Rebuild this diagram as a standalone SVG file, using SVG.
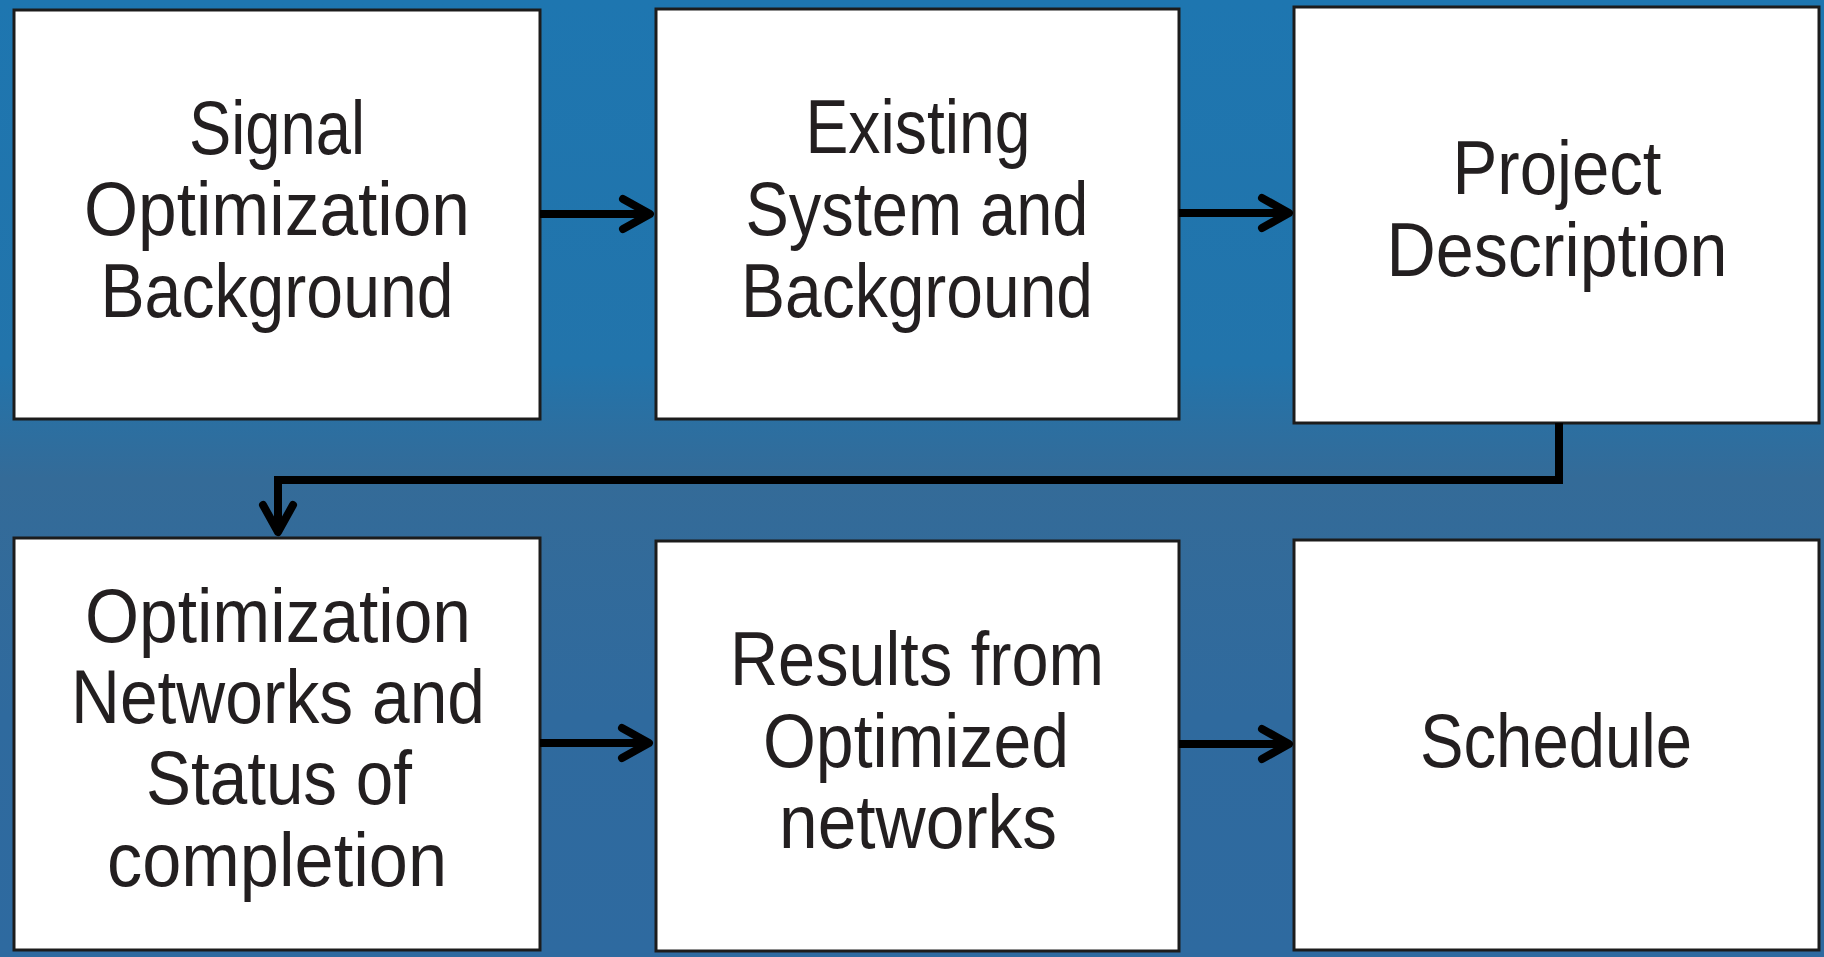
<svg xmlns="http://www.w3.org/2000/svg" width="1824" height="957" viewBox="0 0 1824 957">
  <defs>
    <linearGradient id="bg" x1="0" y1="0" x2="0" y2="1">
      <stop offset="0" stop-color="#1e76b0"/>
      <stop offset="0.38" stop-color="#2274ab"/>
      <stop offset="0.5" stop-color="#346b98"/>
      <stop offset="0.75" stop-color="#2f6a9e"/>
      <stop offset="1" stop-color="#2e6aa0"/>
    </linearGradient>
    <marker id="chevron" viewBox="-34 -20 40 40" refX="0" refY="0" markerWidth="40" markerHeight="40" markerUnits="userSpaceOnUse" orient="auto">
      <path d="M-27,-15 L0,0 L-27,15" fill="none" stroke="#000" stroke-width="8" stroke-linecap="round" stroke-linejoin="round"/>
    </marker>
    <style>
      .box { fill: #ffffff; stroke: #1c1c1c; stroke-width: 3; }
      .label { font-family: "Liberation Sans", Arial, sans-serif; font-size: 76px; fill: #231f20; text-anchor: middle; }
      .link { fill: none; stroke: #000; stroke-width: 8; marker-end: url(#chevron); }
    </style>
  </defs>

  <rect x="0" y="0" width="1824" height="957" fill="url(#bg)"/>

  <g id="node-signal-optimization">
    <rect class="box" x="14" y="10" width="526" height="409"/>
    <text class="label" x="277" y="154" textLength="176" lengthAdjust="spacingAndGlyphs">Signal</text>
    <text class="label" x="277" y="235" textLength="386" lengthAdjust="spacingAndGlyphs">Optimization</text>
    <text class="label" x="277" y="317" textLength="353" lengthAdjust="spacingAndGlyphs">Background</text>
  </g>

  <g id="node-existing-system">
    <rect class="box" x="656" y="9" width="523" height="410"/>
    <text class="label" x="918" y="153" textLength="225" lengthAdjust="spacingAndGlyphs">Existing</text>
    <text class="label" x="917" y="235" textLength="343" lengthAdjust="spacingAndGlyphs">System and</text>
    <text class="label" x="917" y="317" textLength="352" lengthAdjust="spacingAndGlyphs">Background</text>
  </g>

  <g id="node-project-description">
    <rect class="box" x="1294" y="7" width="525" height="416"/>
    <text class="label" x="1557" y="194" textLength="209" lengthAdjust="spacingAndGlyphs">Project</text>
    <text class="label" x="1557" y="276" textLength="341" lengthAdjust="spacingAndGlyphs">Description</text>
  </g>

  <g id="node-optimization-networks">
    <rect class="box" x="14" y="538" width="526" height="412"/>
    <text class="label" x="278" y="642" textLength="386" lengthAdjust="spacingAndGlyphs">Optimization</text>
    <text class="label" x="278" y="723" textLength="414" lengthAdjust="spacingAndGlyphs">Networks and</text>
    <text class="label" x="279" y="804" textLength="266" lengthAdjust="spacingAndGlyphs">Status of</text>
    <text class="label" x="277" y="886" textLength="340" lengthAdjust="spacingAndGlyphs">completion</text>
  </g>

  <g id="node-results">
    <rect class="box" x="656" y="541" width="523" height="410"/>
    <text class="label" x="917" y="685" textLength="374" lengthAdjust="spacingAndGlyphs">Results from</text>
    <text class="label" x="916" y="767" textLength="306" lengthAdjust="spacingAndGlyphs">Optimized</text>
    <text class="label" x="918" y="848" textLength="278" lengthAdjust="spacingAndGlyphs">networks</text>
  </g>

  <g id="node-schedule">
    <rect class="box" x="1294" y="540" width="525" height="410"/>
    <text class="label" x="1556" y="767" textLength="272" lengthAdjust="spacingAndGlyphs">Schedule</text>
  </g>

  <g id="connectors">
    <path class="link" d="M540,214 H650"/>
    <path class="link" d="M1179,213 H1289"/>
    <path class="link" d="M1559,423 V480 H278 V532" stroke-linejoin="miter"/>
    <path class="link" d="M540,743 H649"/>
    <path class="link" d="M1179,744 H1289"/>
  </g>
</svg>
